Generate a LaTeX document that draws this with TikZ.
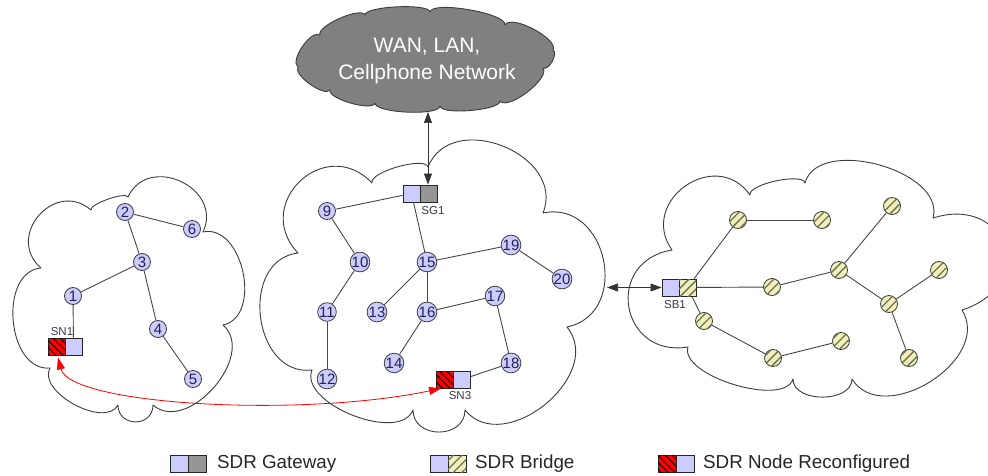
\documentclass[tikz,border=0pt]{standalone}
\usepackage{fontspec}
\setmainfont{Liberation Sans}
\usetikzlibrary{arrows.meta,patterns.meta,calc}
\definecolor{lav}{RGB}{204,204,255}
\definecolor{gwy}{RGB}{150,150,150}
\definecolor{ylw}{RGB}{240,240,184}
\definecolor{hatchy}{RGB}{110,110,90}
\definecolor{rd}{RGB}{255,0,0}
\definecolor{edgec}{RGB}{70,70,70}
\definecolor{cloudc}{RGB}{60,60,60}
\definecolor{numc}{RGB}{35,35,80}
\definecolor{lblc}{RGB}{55,55,75}
\definecolor{wanfill}{RGB}{128,128,128}
\begin{document}
\begin{tikzpicture}[x=1pt,y=-1pt,
 bump/.style={bend left=90, looseness=#1},
 cloudline/.style={draw=cloudc, line width=0.9pt, line join=round},
 lnk/.style={draw=edgec, line width=0.9pt},
 num/.style={circle, draw=cloudc, line width=0.8pt, fill=lav, minimum size=17pt, inner sep=0pt, text=numc, font=\fontsize{15}{15}\selectfont},
 ynode/.style={circle, draw=cloudc, line width=0.8pt, fill=ylw, minimum size=17pt, inner sep=0pt, postaction={pattern={Lines[angle=45,distance=6pt,line width=1.3pt]}, pattern color=hatchy}},
 half/.style={rectangle, draw=black!85, line width=0.9pt, minimum size=17pt, inner sep=0pt},
 leghalf/.style={half, minimum width=18pt},
 bluehalf/.style={fill=lav},
 greyhalf/.style={fill=gwy},
 redhalf/.style={fill=rd, postaction={pattern={Lines[angle=-45,distance=5pt,line width=0.9pt]}, pattern color=black}},
 yhalf/.style={fill=ylw, postaction={pattern={Lines[angle=45,distance=6pt,line width=1.3pt]}, pattern color=hatchy}},
 lbl/.style={text=lblc, font=\fontsize{11.5}{12}\selectfont, inner sep=0pt},
 legtxt/.style={anchor=west, inner sep=0pt, text=black!85, font=\fontsize{18.8}{20}\selectfont},
 arr/.style={{Triangle[length=11pt,width=8pt]}-{Triangle[length=11pt,width=8pt]}, draw=black!80, line width=0.7pt},
 redarr/.style={{Triangle[length=12pt,width=8pt]}-{Triangle[length=12pt,width=8pt]}, draw=rd, line width=0.8pt},
]
\path[use as bounding box] (0,0) rectangle (988,476);
\clip (0,0) rectangle (988,476);

% clouds
\draw[cloudline] (41,268) to[bump=1.6] (91,210) to[bump=0.4] (128,197) to[bump=1.5] (203,232) to[bump=1.1] (223,325) to[bump=1.1] (153,405) to[bump=1.65] (118,405) to[bump=0.9] (50,368) to[bump=1.1] (41,268) -- cycle;
\draw[cloudline] (298,253) to[bump=1.7] (372,183) to[bump=0.5] (428,167) to[bump=1.3] (543,213) to[bump=1.45] (567,327) to[bump=1.2] (465,410) to[bump=1.45] (413,410) to[bump=0.85] (312,370) to[bump=1.3] (298,253) -- cycle;
\draw[cloudline] (672,250) to[bump=1.6] (750,195) to[bump=0.5] (805,183) to[bump=0.95] (933,218) to[bump=2.1] (962,310) to[bump=1.15] (852,379) to[bump=1.05] (793,379) to[bump=0.7] (688,347) to[bump=1.8] (672,250) -- cycle;
\draw[cloudline, fill=wanfill] (298,67) to[bump=0.7] (320,35) to[bump=0.5] (365,15) to[bump=0.35] (430,12) to[bump=0.4] (505,25) to[bump=0.6] (553,50) to[bump=0.8] (543,68) to[bump=0.6] (500,101) to[bump=0.4] (440,106) to[bump=0.4] (375,103) to[bump=0.5] (330,90) to[bump=0.6] (298,67) -- cycle;
\node[text=white, align=center, font=\fontsize{21}{27}\selectfont] (wan) at (427,61) {WAN, LAN,\\Cellphone Network};

% left network
\node[num] (n1) at (73,296) {1};
\node[num] (n2) at (125,212) {2};
\node[num] (n3) at (142,262) {3};
\node[num] (n4) at (158,329) {4};
\node[num] (n5) at (193,379) {5};
\node[num] (n6) at (192,229) {6};
\node[half, redhalf] (sn1r) at (56.5,346.5) {};
\node[half, bluehalf] (sn1b) at (73.5,346.5) {};
\node[lbl] (sn1l) at (62,332) {SN1};
\draw[lnk] (n2) -- (n6);
\draw[lnk] (n2) -- (n3);
\draw[lnk] (n3) -- (n1);
\draw[lnk] (n3) -- (n4);
\draw[lnk] (n4) -- (n5);
\draw[lnk] (n1) -- (sn1b);

% middle network
\node[num] (n9) at (327,211) {9};
\node[num] (n10) at (360,262) {10};
\node[num] (n11) at (327,312) {11};
\node[num] (n12) at (327,379) {12};
\node[num] (n13) at (377,312) {13};
\node[num] (n14) at (394,363) {14};
\node[num] (n15) at (427,262) {15};
\node[num] (n16) at (427,312) {16};
\node[num] (n17) at (495,296) {17};
\node[num] (n18) at (511,363) {18};
\node[num] (n19) at (511,245) {19};
\node[num] (n20) at (562,279) {20};
\node[half, bluehalf] (sg1b) at (411.5,193.5) {};
\node[half, greyhalf] (sg1g) at (428.5,193.5) {};
\node[lbl] (sg1l) at (433,211) {SG1};
\node[half, redhalf] (sn3r) at (445,379.5) {};
\node[half, bluehalf] (sn3b) at (462,379.5) {};
\node[lbl] (sn3l) at (460,396) {SN3};
\draw[lnk] (n9) -- (sg1b);
\draw[lnk] (sg1b) -- (n15);
\draw[lnk] (n9) -- (n10);
\draw[lnk] (n10) -- (n11);
\draw[lnk] (n11) -- (n12);
\draw[lnk] (n15) -- (n13);
\draw[lnk] (n15) -- (n16);
\draw[lnk] (n15) -- (n19);
\draw[lnk] (n19) -- (n20);
\draw[lnk] (n16) -- (n17);
\draw[lnk] (n16) -- (n14);
\draw[lnk] (n17) -- (n18);
\draw[lnk] (n18) -- (sn3b);

% right network
\node[ynode] (ya) at (738,220) {};
\node[ynode] (yb) at (822,220) {};
\node[ynode] (yc) at (892,206) {};
\node[ynode] (yd) at (772,287) {};
\node[ynode] (ye) at (839,270) {};
\node[ynode] (yf) at (939,270) {};
\node[ynode] (yg) at (889,304) {};
\node[ynode] (yh) at (704,321) {};
\node[ynode] (yi) at (773,358) {};
\node[ynode] (yj) at (841,341) {};
\node[ynode] (yk) at (909,358) {};
\node[half, bluehalf] (sb1b) at (670.5,287.5) {};
\node[half, yhalf] (sb1y) at (687.5,287.5) {};
\node[lbl] (sb1l) at (675,305) {SB1};
\draw[lnk] (sb1y) -- (ya);
\draw[lnk] (ya) -- (yb);
\draw[lnk] (sb1y) -- (yd);
\draw[lnk] (yd) -- (ye);
\draw[lnk] (ye) -- (yc);
\draw[lnk] (ye) -- (yg);
\draw[lnk] (yg) -- (yf);
\draw[lnk] (yg) -- (yk);
\draw[lnk] (sb1y) -- (yh);
\draw[lnk] (yh) -- (yi);
\draw[lnk] (yi) -- (yj);

% arrows
\coordinate (wanb) at (428,112);
\draw[arr] (wanb) -- (wanb |- sg1g.north);
\coordinate (midr) at (607,287.5);
\draw[arr] (midr) -- (sb1b.west);
\draw[redarr] ($(sn1r.south)+(1.5,2)$) .. controls (70,405) and (300,418) .. ($(sn3r.south west)+(5,0)$);

% legend
\node[leghalf, bluehalf] (lg1b) at (179.5,463.5) {};
\node[leghalf, greyhalf] (lg1g) at (197.5,463.5) {};
\node[legtxt] (lg1t) at (217,463.5) {SDR Gateway};
\node[leghalf, bluehalf] (lg2b) at (439,463.5) {};
\node[leghalf, yhalf] (lg2y) at (457,463.5) {};
\node[legtxt] (lg2t) at (475,463.5) {SDR Bridge};
\node[leghalf, redhalf] (lg3r) at (667,463.5) {};
\node[leghalf, bluehalf] (lg3b) at (685,463.5) {};
\node[legtxt] (lg3t) at (703,463.5) {SDR Node Reconfigured};
\end{tikzpicture}
\end{document}
